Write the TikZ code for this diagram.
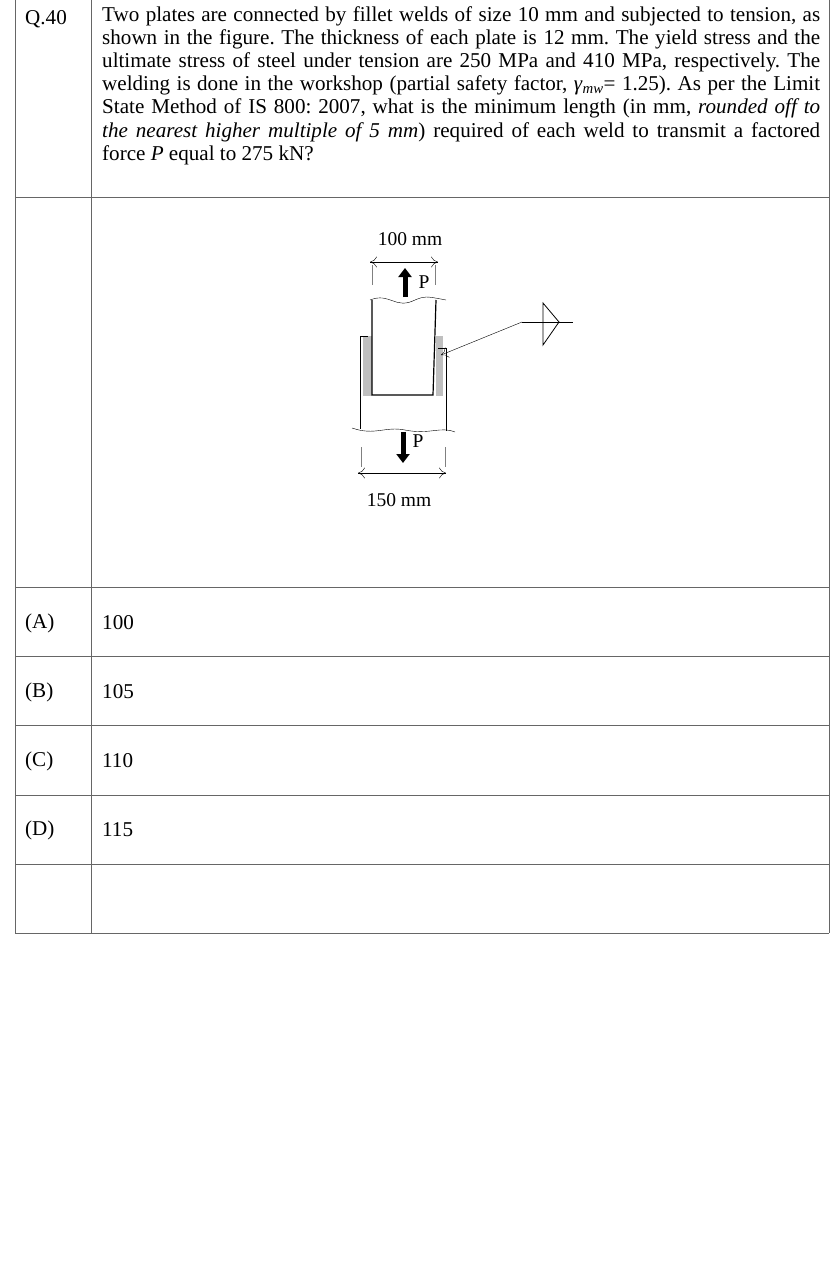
\documentclass[tikz,border=0pt]{standalone}
\usepackage{fontspec}
\setmainfont{Liberation Serif}
\usetikzlibrary{arrows.meta}
\tikzset{
  cell/.style={anchor=west,font=\fontsize{21.1}{23.2}\selectfont,inner sep=0pt},
  lbl/.style={font=\fontsize{19.5}{22}\selectfont,inner sep=0pt},
  dim/.style={{To[length=7pt,width=11pt]}-{To[length=7pt,width=11pt]},thin},
  force/.style={-{Triangle[length=9pt,width=13pt]},line width=5pt},
  weld/.style={fill=black!25,draw=none},
  plate/.style={line width=1.2pt},
}
\begin{document}
\frenchspacing
\begin{tikzpicture}[x=1pt,y=-1pt]
\useasboundingbox (0,0) rectangle (840,1262);
% table
\draw[gray!80!black] (15,0) -- (15,933) (91,0) -- (91,933) (829,0) -- (829,933);
\foreach \y in {197,587,656,725,795,864,933}
  \draw[gray!80!black] (15,\y) -- (829,\y);
\node[cell] (qno) at (25,19) {Q.40};
\node[cell,anchor=north west,text width=718pt,align=justify] (qtext) at (102,6)
 {Two plates are connected by fillet welds of size 10 mm and subjected to tension, as shown in the figure. The thickness of each plate is 12 mm. The yield stress and the ultimate stress of steel under tension are 250 MPa and 410 MPa, respectively. The welding is done in the workshop (partial safety factor, \textit{γ}\textsubscript{\textit{mw}}= 1.25). As per the Limit State Method of IS 800: 2007, what is the minimum length (in mm, \textit{rounded off to}\linebreak \textit{the nearest higher multiple of 5 mm}) required of each weld to transmit a factored\linebreak force \textit{P} equal to 275 kN?};
\foreach \lab/\val/\y in {A/100/623,B/105/692,C/110/761,D/115/830}{
  \node[cell] (opt\lab) at (25,\y) {(\lab)};
  \node[cell] (val\lab) at (102,\y) {\val};
}
% welds
\fill[weld] (363,336) rectangle (372,396);
\fill[weld] (436,336) rectangle (443,396);
% lower plate
\draw[thick] (360,336) -- (360,429);
\draw[thick] (446,348) -- (446,431);
\draw[thick] (360,336) -- (368,336) (438,348) -- (446,348);
% upper plate
\draw[plate] (372,300) -- (372,395) -- (433,395) -- (436,300);
% breaks
\draw (370,300) .. controls (390,292) and (395,310) .. (415,300) .. controls (425,296) .. (446,300);
\draw (352,428) .. controls (375,436) and (385,426) .. (405,430) .. controls (430,435) and (440,426) .. (455,432);
% forces
\draw[force] (405,297) -- (405,268);
\node[lbl] (ptop) at (424,282) {P};
\draw[force] (403,432) -- (403,463);
\node[lbl] (pbot) at (418,441) {P};
% dimensions
\coordinate (a1) at (370,262); \coordinate (a2) at (438,262);
\draw[gray] (372,265) -- (372,285) (435,265) -- (435,285);
\draw[dim] (a1) -- (a2);
\node[lbl] (d100) at (410,239) {100 mm};
\coordinate (b1) at (358,473); \coordinate (b2) at (446,473);
\draw[gray] (361,447) -- (361,467) (445,447) -- (445,467);
\draw[dim] (b1) -- (b2);
\node[lbl] (d150) at (399,500) {150 mm};
% weld symbol
\coordinate (tip) at (441,355);
\coordinate (knee) at (522,322);
\coordinate (tail) at (573,322);
\draw[-{To[length=7pt,width=11pt]}] (knee) -- (tip);
\draw (knee) -- (tail);
\draw[thick] (543,303) -- (543,345) -- (559,322) -- cycle;
\end{tikzpicture}
\end{document}
